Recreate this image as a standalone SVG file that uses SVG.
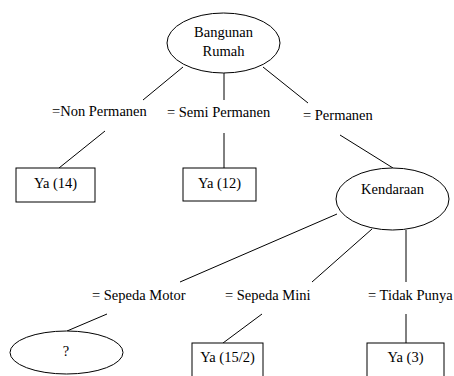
<svg xmlns="http://www.w3.org/2000/svg" width="454" height="376" viewBox="0 0 454 376">
<rect width="454" height="376" fill="#fff"/>
<g id="connectors" stroke="#000" stroke-width="1">
<line x1="183" y1="67" x2="143" y2="100"/>
<line x1="224" y1="73" x2="224" y2="100"/>
<line x1="263" y1="67" x2="308" y2="103"/>
<line x1="105" y1="131" x2="59" y2="168"/>
<line x1="224" y1="133" x2="224" y2="168"/>
<line x1="340" y1="135" x2="393" y2="168"/>
<line x1="337" y1="214" x2="180" y2="282"/>
<line x1="372" y1="229" x2="312" y2="282"/>
<line x1="406" y1="230" x2="406" y2="282"/>
<line x1="107" y1="314" x2="67" y2="331"/>
<line x1="262" y1="314" x2="223" y2="343"/>
<line x1="406" y1="314" x2="406" y2="343"/>
</g>
<g id="labels">
<text x="52" y="116" style="font-family:'Times New Roman','Liberation Serif',Tinos,serif;font-size:14.5px">=Non Permanen</text>
<text x="167" y="117" style="font-family:'Times New Roman','Liberation Serif',Tinos,serif;font-size:14.5px">= Semi Permanen</text>
<text x="303" y="120" style="font-family:'Times New Roman','Liberation Serif',Tinos,serif;font-size:14.5px">= Permanen</text>
<text x="92" y="300" style="font-family:'Times New Roman','Liberation Serif',Tinos,serif;font-size:14.5px">= Sepeda Motor</text>
<text x="225" y="300" style="font-family:'Times New Roman','Liberation Serif',Tinos,serif;font-size:14.5px">= Sepeda Mini</text>
<text x="368" y="300" style="font-family:'Times New Roman','Liberation Serif',Tinos,serif;font-size:14.5px">= Tidak Punya</text>
</g>
<g id="bangunan">
<ellipse cx="223.5" cy="43" rx="56.5" ry="30" fill="#fff" stroke="#000"/>
<text x="223.5" y="37" text-anchor="middle" style="font-family:'Times New Roman','Liberation Serif',Tinos,serif;font-size:14.5px">Bangunan</text>
<text x="223.5" y="56" text-anchor="middle" style="font-family:'Times New Roman','Liberation Serif',Tinos,serif;font-size:14.5px">Rumah</text>
</g>
<g id="ya14">
<rect x="16" y="168" width="79" height="34" fill="#fff" stroke="#000"/>
<text x="55.5" y="188" text-anchor="middle" style="font-family:'Times New Roman','Liberation Serif',Tinos,serif;font-size:14.5px">Ya (14)</text>
</g>
<g id="ya12">
<rect x="183" y="168" width="73" height="33" fill="#fff" stroke="#000"/>
<text x="219.5" y="188" text-anchor="middle" style="font-family:'Times New Roman','Liberation Serif',Tinos,serif;font-size:14.5px">Ya (12)</text>
</g>
<g id="kendaraan">
<ellipse cx="392.5" cy="199" rx="56.5" ry="31" fill="#fff" stroke="#000"/>
<text x="392.5" y="194" text-anchor="middle" style="font-family:'Times New Roman','Liberation Serif',Tinos,serif;font-size:14.5px">Kendaraan</text>
</g>
<g id="unknown">
<ellipse cx="66.5" cy="352.5" rx="56.5" ry="21.5" fill="#fff" stroke="#000"/>
<text x="66" y="356" text-anchor="middle" style="font-family:'Times New Roman','Liberation Serif',Tinos,serif;font-size:14.5px">?</text>
</g>
<g id="ya15_2">
<rect x="192" y="343" width="71" height="40" fill="#fff" stroke="#000"/>
<text x="227.5" y="362" text-anchor="middle" style="font-family:'Times New Roman','Liberation Serif',Tinos,serif;font-size:14.5px">Ya (15/2)</text>
</g>
<g id="ya3">
<rect x="367" y="343" width="77" height="40" fill="#fff" stroke="#000"/>
<text x="405.5" y="362" text-anchor="middle" style="font-family:'Times New Roman','Liberation Serif',Tinos,serif;font-size:14.5px">Ya (3)</text>
</g>
</svg>
